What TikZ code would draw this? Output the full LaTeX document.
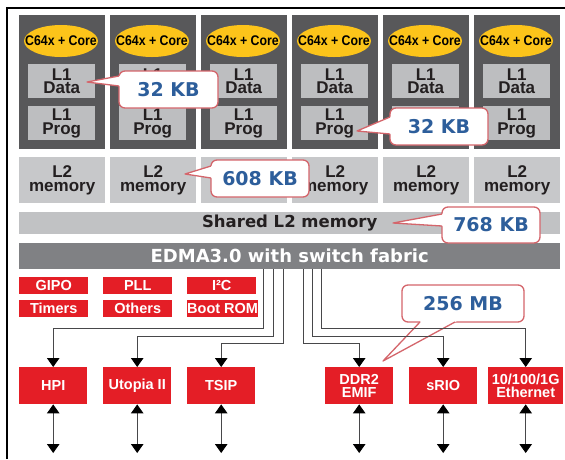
\documentclass[tikz,border=0pt]{standalone}
\usepackage{fontspec}
\setmainfont{Liberation Sans}
\newfontfamily\dvfont{DejaVu Sans}
\newfontfamily\condfont[FakeStretch=0.88]{Liberation Sans}
\usetikzlibrary{arrows.meta,shapes.geometric,calc}
\definecolor{coredark}{HTML}{58585A}
\definecolor{lgray}{HTML}{BDBEC0}
\definecolor{ltwo}{HTML}{C7C8CA}
\definecolor{sharedgray}{HTML}{C1C2C4}
\definecolor{edmagray}{HTML}{808184}
\definecolor{tired}{HTML}{E41E26}
\definecolor{coreyellow}{HTML}{FCC41A}
\definecolor{callred}{HTML}{D4656B}
\definecolor{callblue}{HTML}{2D5E9B}
\definecolor{linegray}{HTML}{48484A}
\definecolor{txt}{HTML}{231F20}
\newcommand\calloutptr[3]{%
  \fill[white] (#1) -- ($(#1)!1.1!(#2)$) -- ($(#1)!1.1!(#3)$) -- cycle;
  \draw[callred, line width=1.3pt, line join=round] (#2) -- (#1) -- (#3);
}
\tikzset{
  ahead/.tip={Triangle[width=12.5pt,length=9pt,color=black]},
  corebox/.style={anchor=north west, fill=coredark, minimum width=86pt, minimum height=134pt, inner sep=0pt},
  coreell/.style={ellipse, fill=coreyellow, minimum width=74pt, minimum height=32pt, inner sep=0pt},
  coretext/.style={inner sep=0pt, text=black, font=\condfont\bfseries\fontsize{14}{14}\selectfont},
  lonebox/.style={anchor=north west, fill=lgray, minimum width=67pt, minimum height=34pt, inner sep=0pt, align=center,
    text=txt, font=\bfseries\fontsize{17}{13.5}\selectfont},
  ltwobox/.style={anchor=north west, fill=ltwo, minimum width=86pt, minimum height=46pt, inner sep=0pt, align=center,
    text=txt, font=\bfseries\fontsize{17}{14.5}\selectfont},
  smallred/.style={anchor=north west, fill=tired, minimum width=69pt, minimum height=17pt, inner sep=0pt, text=white,
    font=\bfseries\fontsize{14.5}{14}\selectfont},
  bigred/.style={anchor=north west, fill=tired, minimum width=68pt, minimum height=37pt, inner sep=0pt, text=white,
    align=center, font=\bfseries\fontsize{14.5}{13}\selectfont},
  callout/.style={draw=callred, line width=1.3pt, fill=white, rounded corners=6pt, text=callblue, inner sep=0pt,
    font=\dvfont\bfseries\fontsize{19}{19}\selectfont},
  conn/.style={draw=linegray, line width=0.9pt, -{ahead}},
  biconn/.style={draw=linegray, line width=0.9pt, {ahead}-{ahead}},
}
\begin{document}
\begin{tikzpicture}[x=1pt,y=-1pt]
\useasboundingbox[fill=white] (0,0) rectangle (565,459);
\draw[line width=2pt] (7,459) -- (7,8) -- (565,8);
\foreach \i in {0,...,5}{
  \node[corebox] (core\i) at ({19+91*\i},15) {};
  \node[coreell] (ell\i) at ({61+91*\i},41) {};
  \node[coretext] (elltext\i) at (ell\i.center) {C64x + Core};
  \node[lonebox] (lonedata\i) at ({28+91*\i},64) {L1\\Data};
  \node[lonebox] (loneprog\i) at ({28+91*\i},106) {L1\\Prog};
  \node[ltwobox] (ltwo\i) at ({19+91*\i},157) {L2\\memory};
}
\node[anchor=north west, fill=sharedgray, minimum width=541pt, minimum height=22pt, inner sep=0pt, text=txt,
  font=\dvfont\bfseries\fontsize{16.5}{16.5}\selectfont] (shared) at (19,212) {Shared L2 memory};
\node[anchor=north west, fill=edmagray, minimum width=541pt, minimum height=26pt, inner sep=0pt, text=white,
  font=\dvfont\bfseries\fontsize{18}{18}\selectfont] (edma) at (19,243) {EDMA3.0 with switch fabric};
% small peripherals
\node[smallred] (gipo) at (19,277) {GIPO};
\node[smallred] (pll) at (103,277) {PLL};
\node[smallred] (iic) at (187,277) {I²C};
\node[smallred] (timers) at (19,300) {Timers};
\node[smallred] (others) at (103,300) {Others};
\node[smallred] (bootrom) at (187,300) {Boot ROM};
% big peripherals
\node[bigred] (hpi) at (19,367) {HPI};
\node[bigred] (utopia) at (103,367) {Utopia II};
\node[bigred] (tsip) at (187,367) {TSIP};
\node[bigred] (ddr) at (325,367) {DDR2\\EMIF};
\node[bigred] (srio) at (409,367) {sRIO};
\node[bigred, minimum width=75pt] (eth) at (488,367) {10/100/1G\\Ethernet};
% callouts
\node[callout, minimum width=99pt, minimum height=37pt] (cA) at (168.5,89.5) {32 KB};
\coordinate (tA) at (87,82);
\calloutptr{tA}{119,76}{119,86}
\node[callout, minimum width=98pt, minimum height=37pt] (cB) at (439,126.5) {32 KB};
\coordinate (tB) at (357,131);
\calloutptr{tB}{390,117}{390,134}
\node[callout, minimum width=98pt, minimum height=37pt] (cC) at (260,178.5) {608 KB};
\coordinate (tC) at (185,174);
\calloutptr{tC}{211,166}{211,178}
\node[callout, minimum width=98pt, minimum height=36pt] (cD) at (491,225) {768 KB};
\coordinate (tD) at (393,223);
\calloutptr{tD}{442,214}{442,226}
\node[callout, minimum width=122pt, minimum height=37pt] (cE) at (463,303.5) {256 MB};
\coordinate (tE) at (383,361);
\calloutptr{tE}{420,322}{455,322}
% connectors from EDMA
\draw[conn] (263,0 |- edma.south) -- (263,328) -| (hpi.north);
\draw[conn] (273,0 |- edma.south) -- (273,336) -| (utopia.north);
\draw[conn] (283,0 |- edma.south) -- (283,343) -| (tsip.north);
\draw[conn] (321,0 |- edma.south) -- (321,328) -| (eth.north);
\draw[conn] (312,0 |- edma.south) -- (312,336) -| (srio.north);
\draw[conn] (303,0 |- edma.south) -- (303,343) -| (ddr.north);
% external arrows
\foreach \n in {hpi,utopia,tsip,ddr,srio,eth}{
  \coordinate (\n end) at (\n.south |- 0,453);
  \draw[biconn] (\n.south) -- (\n end);
}
\end{tikzpicture}
\end{document}
